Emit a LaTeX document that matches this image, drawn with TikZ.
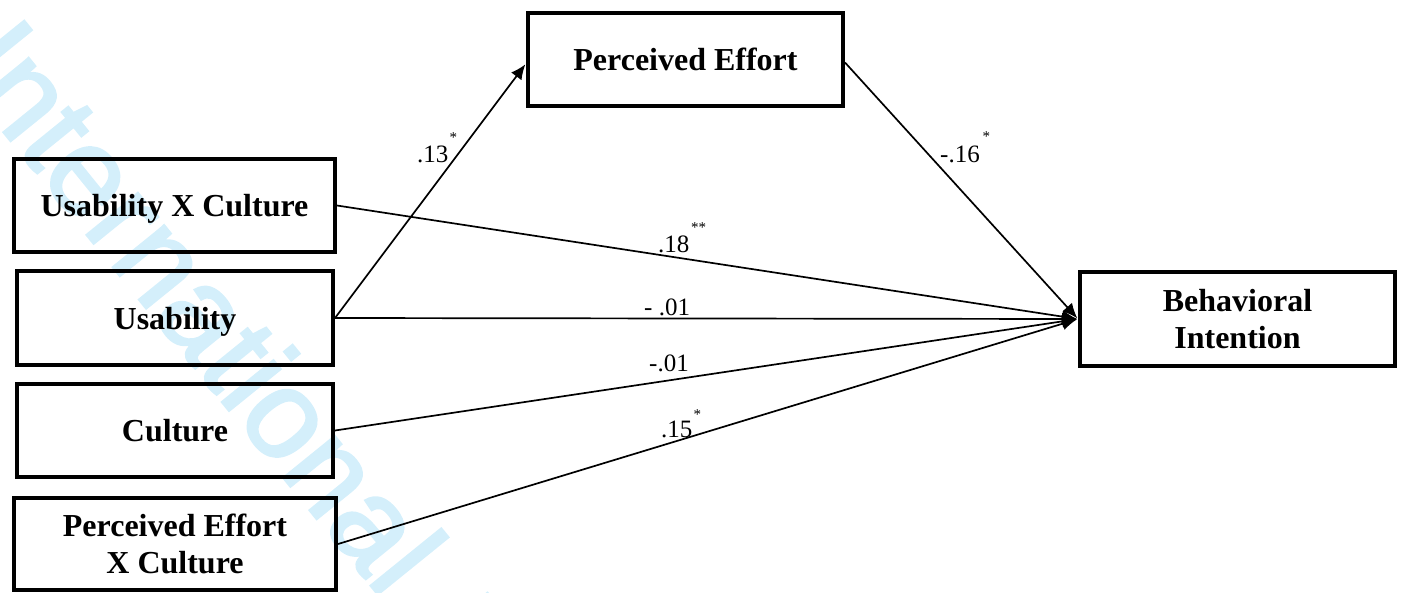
\documentclass[tikz,border=0pt]{standalone}
\usepackage{fontspec}
\setmainfont{Liberation Serif}
\newfontfamily\wmfont[FakeBold=2]{Liberation Sans}
\usetikzlibrary{arrows.meta}
\definecolor{wmcol}{RGB}{212,239,251}
\begin{document}
\begin{tikzpicture}[x=1pt,y=-1pt,
  box/.style={draw, line width=4pt, inner sep=0pt, align=center,
    font=\fontsize{32}{37}\selectfont\bfseries},
  one/.style={box, text height=22pt, text depth=0pt},
  conn/.style={line width=1.7pt},
  arr/.style={conn, -{Latex[length=15pt,width=13pt]}, shorten >=1pt},
  lab/.style={font=\fontsize{25}{25}\selectfont, inner sep=0pt, anchor=base west},
  star/.style={font=\fontsize{15}{15}\selectfont, inner sep=0pt, anchor=base west}]
\useasboundingbox (0,0) rectangle (1403,592);
\begin{scope}
  \clip (0,0) rectangle (1403,592);
  \node[text=wmcol, font=\wmfont\fontsize{125}{125}\selectfont, rotate=-51,
        anchor=base west, inner sep=0pt] (wmk) at (-50,66) {International Journal};
\end{scope}
% boxes
\node[one, minimum width=321pt, minimum height=93pt] (uxc)  at (174.5,205.5) {Usability X Culture};
\node[one, minimum width=316pt, minimum height=94pt] (us)   at (175,318)     {Usability};
\node[one, minimum width=316pt, minimum height=93pt] (cu)   at (175,430.5)   {Culture};
\node[box, minimum width=322pt, minimum height=92pt] (pexc) at (175,544)     {Perceived Effort\\X Culture};
\node[one, minimum width=315pt, minimum height=93pt] (pe)   at (685.5,59.5)  {Perceived Effort};
\node[box, minimum width=315pt, minimum height=94pt] (bi)   at (1237.5,319)  {Behavioral\\Intention};
% connectors
\draw[arr] (us.east) -- ([yshift=-4pt]pe.west);
\draw[arr] ([yshift=-3pt]pe.east) -- (bi.west);
\draw[arr] (uxc.east) -- (bi.west);
\draw[arr] (us.east) -- (bi.west);
\draw[arr] (cu.east) -- (bi.west);
\draw[arr] (pexc.east) -- (bi.west);
% labels
\node[lab] (l13) at (417,162) {.13};
\node[star] (s13) at (449.5,142) {*};
\node[lab] (l16) at (940,162) {-.16};
\node[star] (s16) at (982.5,141) {*};
\node[lab] (l18) at (658,252) {.18};
\node[star] (s18) at (691,232) {**};
\node[lab] (l01a) at (644,315) {- .01};
\node[lab] (l01b) at (649,371) {-.01};
\node[lab] (l15) at (661,437) {.15};
\node[star] (s15) at (693.5,419) {*};
\end{tikzpicture}
\end{document}
